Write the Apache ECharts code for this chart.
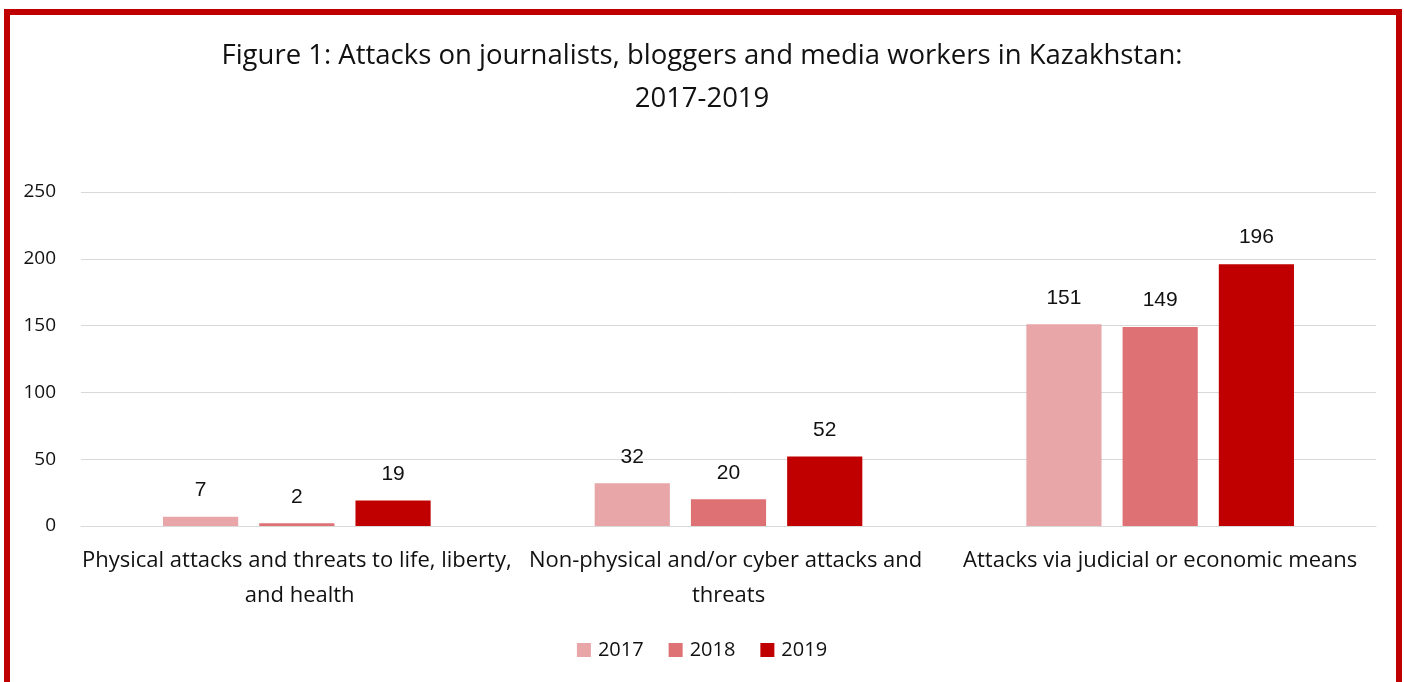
<!DOCTYPE html>
<html>
<head>
<meta charset="utf-8">
<script src="https://cdn.jsdelivr.net/npm/echarts@6/dist/echarts.min.js"></script>
<style>
  html, body { margin: 0; padding: 0; background: #fff; }
  #chart { width: 1404px; height: 682px; }
</style>
</head>
<body>
<div id="chart"></div>
<script>
// Attack categories and yearly counts
const categories = [
  'Physical attacks and threats to life, liberty, and health',
  'Non-physical and/or cyber attacks and threats',
  'Attacks via judicial or economic means'
];
const years = ['2017', '2018', '2019'];
const values2017 = [7, 32, 151];
const values2018 = [2, 20, 149];
const values2019 = [19, 52, 196];
const yTicks = [0, 50, 100, 150, 200, 250];

const colors = ['#E8A6A8', '#DE7173', '#C00000'];
const fontFamily = '"Open Sans", sans-serif';
const labelFamily = '"Liberation Sans", Arial, sans-serif';

const chart = echarts.init(document.getElementById('chart'));

const seriesData = [values2017, values2018, values2019];

chart.setOption({
  backgroundColor: '#ffffff',
  animation: false,
  title: {
    text: 'Figure 1: Attacks on journalists, bloggers and media workers in Kazakhstan:\n2017-2019',
    left: 'center',
    top: 30,
    textStyle: {
      fontFamily: fontFamily,
      fontSize: 27.5,
      fontWeight: 'normal',
      color: '#111',
      lineHeight: 43
    }
  },
  graphic: [{
    type: 'rect',
    shape: { x: 7, y: 12, width: 1392, height: 700 },
    style: { fill: 'none', stroke: '#C00000', lineWidth: 6 },
    silent: true
  }],
  legend: {
    data: years,
    top: 635,
    left: 'center',
    itemWidth: 14,
    itemHeight: 14,
    itemGap: 25,
    icon: 'rect',
    textStyle: { fontFamily: fontFamily, fontSize: 20, color: '#111', padding: [0, 0, 0, 2] }
  },
  grid: {
    left: 81,
    right: 28,
    top: 192,
    bottom: 156,
    containLabel: false
  },
  xAxis: {
    type: 'category',
    data: categories,
    axisLine: { show: true, lineStyle: { color: '#d9d9d9', width: 1 } },
    axisTick: { show: false },
    axisLabel: {
      interval: 0,
      margin: 17,
      width: 434,
      overflow: 'break',
      lineHeight: 35,
      fontFamily: fontFamily,
      fontSize: 22,
      color: '#111'
    }
  },
  yAxis: {
    type: 'value',
    min: yTicks[0],
    max: yTicks[yTicks.length - 1],
    interval: 50,
    axisLine: { show: false },
    axisTick: { show: false },
    splitLine: { lineStyle: { color: '#d9d9d9', width: 1 } },
    axisLabel: {
      margin: 25,
      fontFamily: fontFamily,
      fontSize: 19,
      color: '#111'
    }
  },
  series: years.map((y, i) => ({
    name: y,
    type: 'bar',
    data: seriesData[i],
    barGap: '28%',
    barCategoryGap: '38%',
    itemStyle: { color: colors[i] },
    label: {
      show: true,
      position: 'top',
      distance: 16,
      fontFamily: labelFamily,
      fontSize: 21,
      color: '#111'
    }
  }))
});
</script>
</body>
</html>
